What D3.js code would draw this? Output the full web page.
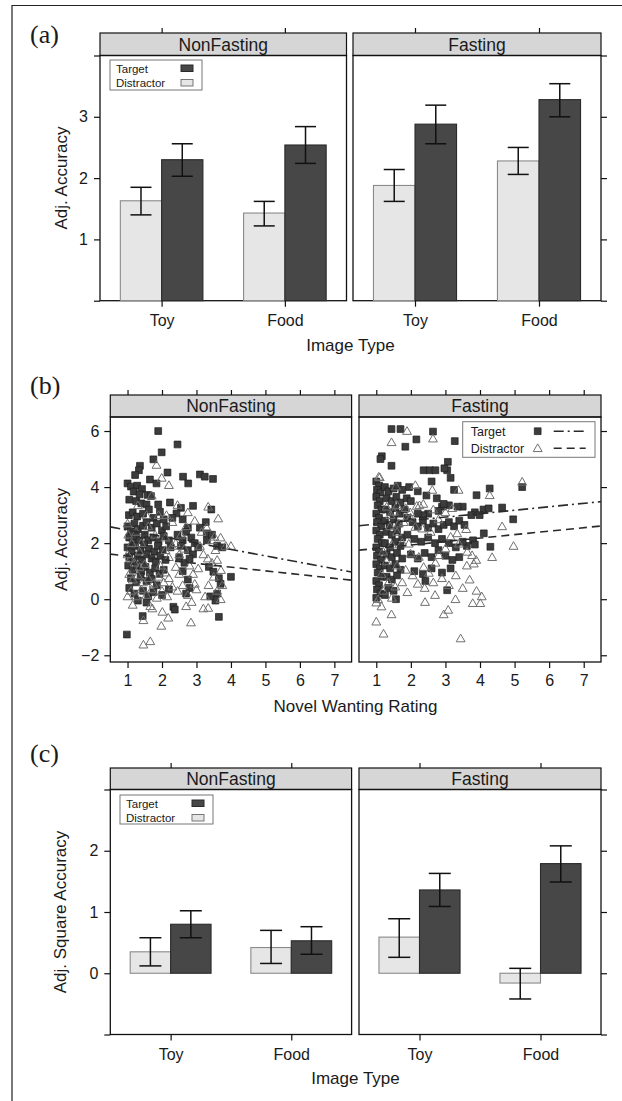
<!DOCTYPE html>
<html><head><meta charset="utf-8">
<script src="https://cdn.jsdelivr.net/npm/d3@7"></script>
<style>
body{margin:0;background:#fff}
svg text{font-family:"Liberation Sans",Arial,Helvetica,sans-serif;fill:#1a1a1a}
</style>
</head><body>
<svg id="chart" width="622" height="1101"></svg>
<script>
// ---------------- DATA ----------------
const groups = ["NonFasting", "Fasting"];
const imageTypes = ["Toy", "Food"];
const seriesNames = ["Target", "Distractor"];

// Panel (a): Adj. Accuracy, per group -> [Toy, Food]
const aTargetMean = [[2.30, 2.54], [2.88, 3.28]];
const aTargetLo   = [[2.03, 2.24], [2.56, 3.00]];
const aTargetHi   = [[2.56, 2.84], [3.19, 3.54]];
const aDistrMean  = [[1.63, 1.43], [1.88, 2.28]];
const aDistrLo    = [[1.40, 1.22], [1.62, 2.06]];
const aDistrHi    = [[1.85, 1.62], [2.14, 2.50]];
const aYTicks = [0, 1, 2, 3, 4];
const aYLabels = [1, 2, 3];

// Panel (c): Adj. Square Accuracy
const cTargetMean = [[0.80, 0.53], [1.36, 1.79]];
const cTargetLo   = [[0.58, 0.31], [1.09, 1.49]];
const cTargetHi   = [[1.02, 0.76], [1.63, 2.08]];
const cDistrMean  = [[0.35, 0.42], [0.59, -0.16]];
const cDistrLo    = [[0.12, 0.16], [0.26, -0.42]];
const cDistrHi    = [[0.58, 0.70], [0.89, 0.08]];
const cYTicks = [-1, 0, 1, 2, 3];
const cYLabels = [0, 1, 2];

// Panel (b): Novel Wanting Rating vs Adj. Accuracy
const bXTicks = [1, 2, 3, 4, 5, 6, 7];
const bYTicks = [-2, 0, 2, 4, 6];
// regression lines [intercept, slope]
const bTargetFit = [[2.695, -0.230], [2.559, 0.123]];
const bDistrFit  = [[1.676, -0.133], [1.689, 0.123]];

const nfTarget = [
[1.89,6.0],[2.45,5.52],[1.99,5.24],[1.75,4.99],[1.36,4.76],[1.33,4.6],[1.22,4.43],[2.16,4.52],[1.65,4.27],[1.84,4.13],[2.61,4.37],[2.76,4.13],[3.10,4.45],[3.24,4.37],[3.48,4.29],
[1.0,4.13],[1.1,4.02],[1.28,4.05],[1.42,3.93],[1.18,3.84],[1.35,3.74],[1.58,3.72],[1.68,3.68],[1.05,3.55],[1.25,3.5],[1.4,3.42],[1.55,3.38],[1.89,3.38],[2.23,3.45],[2.55,3.26],[2.9,3.33],
[1.04,3.0],[1.15,3.1],[1.28,2.95],[1.45,3.05],[1.94,3.12],[2.42,3.06],[3.43,3.2],[3.27,2.75],[2.6,2.85],[2.75,2.55],[3.1,2.55],[3.3,2.35],[1.62,3.2],[1.75,2.9],[2.05,2.85],[2.3,2.9],
[1.0,2.6],[1.1,2.42],[1.2,2.7],[1.3,2.5],[1.45,2.62],[1.55,2.75],[1.7,2.55],[1.85,2.7],[2.0,2.45],[2.12,2.6],
[1.05,2.2],[1.15,2.05],[1.25,2.25],[1.35,2.1],[1.5,2.3],[1.6,2.1],[1.75,2.2],[1.9,2.05],[2.05,2.25],[2.2,2.1],
[1.0,1.85],[1.12,1.7],[1.22,1.9],[1.38,1.75],[1.48,1.95],[1.62,1.8],[1.78,1.7],[1.88,1.9],[2.02,1.75],[2.25,1.85],
[1.05,1.5],[1.18,1.35],[1.3,1.55],[1.42,1.4],[1.55,1.6],[1.7,1.45],[1.82,1.35],[1.95,1.55],[2.1,1.4],
[1.02,1.2],[1.15,1.05],[1.27,1.2],[1.4,1.0],[1.52,1.15],[1.65,0.95],[1.8,1.1],[1.93,0.9],[2.05,1.05],
[1.1,0.75],[1.25,0.6],[1.38,0.8],[1.55,0.65],[1.7,0.72],[1.85,0.5],[1.05,0.4],[1.2,0.2],[1.45,0.3],[1.6,0.1],[1.75,0.25],[2.0,0.15],[2.2,0.35],[1.3,-0.05],[1.55,-0.12],
[2.45,2.3],[2.6,2.1],[2.7,2.4],[2.85,2.2],[2.95,2.0],[2.55,1.9],[2.75,1.75],[2.9,1.6],[3.05,1.85],[3.3,2.1],[3.45,2.3],[3.6,1.9],[3.75,1.85],[2.5,1.5],[2.65,1.3],[2.8,1.45],[2.6,1.0],[2.75,0.7],[2.8,0.4],[2.7,0.2],[3.36,1.15],[3.49,0.98],[3.6,0.2],[3.7,0.55],[3.65,0.75],[3.55,-0.05],[3.4,0.1],[4.0,0.8],
[0.98,-1.26],[1.44,-0.6],[2.33,-0.27],[2.37,-0.37],[3.65,-0.63]
];
const nfDistractor = [
[1.84,4.79],[1.99,4.33],[2.2,4.07],[1.7,3.7],[2.45,3.36],[3.34,3.3],[3.63,2.88],[1.9,3.0],[2.13,3.0],[1.0,2.7],[1.55,3.0],[2.3,2.75],[2.7,2.6],[2.95,2.8],[3.15,2.4],[3.3,2.55],[3.45,2.1],[3.7,2.2],[3.52,2.23],[3.85,1.9],[4.0,1.9],[3.71,1.04],[3.6,1.4],[3.33,1.45],
[1.05,0.9],[1.15,0.7],[1.3,0.85],[1.45,0.6],[1.6,0.75],[1.75,0.55],[1.9,0.8],[2.05,0.6],[2.2,0.75],[1.1,0.3],[1.25,0.1],[1.4,0.35],[1.55,0.15],[1.7,0.35],[1.85,0.05],[2.0,0.3],[2.15,0.1],[2.3,0.45],[1.2,1.3],[1.35,1.15],[1.0,1.6],[1.08,1.45],[1.5,1.25],
[1.66,-0.25],[1.72,-0.33],[2.01,-0.45],[2.18,-0.66],[1.98,-0.95],[2.7,-0.25],[2.86,-0.1],[3.2,-0.33],[2.84,-0.83],[1.66,-1.5],[1.46,-1.62],[1.46,-0.75],[3.7,0.0],[3.34,-0.31],
[2.5,1.6],[2.65,1.8],[2.8,1.2],[2.9,0.9],[3.05,1.1],[3.2,1.6],[3.35,0.5],[3.5,0.8],[3.6,0.3],[2.6,0.5],[2.75,0.15],[3.0,0.35],[3.25,0.1],[2.4,2.0],[2.55,2.3],[2.3,1.9],[2.2,1.5],[2.1,2.2],[1.4,2.0],[1.25,2.4],[1.6,2.6],[1.8,2.3],[2.4,1.15],[2.5,0.9],[3.1,1.9],[3.45,1.3],[3.55,1.75],[3.75,0.5],[1.02,2.3],[1.12,2.0],[1.35,1.7],[1.95,1.2],[2.1,0.95],[1.0,0.1],[1.15,-0.2],[2.45,0.3],[2.95,0.55],[1.3,3.35],[2.75,3.1],[2.1,1.75]
];
const fTarget = [
[1.44,6.07],[1.70,6.07],[2.64,5.98],[2.16,5.7],[1.84,5.44],[3.27,5.64],[1.16,5.1],[1.12,5.0],[1.44,4.76],[2.37,4.6],[2.55,4.6],[2.71,4.6],[3.07,4.9],[3.05,4.6],[3.15,4.33],[2.97,4.67],[5.22,4.0],[4.28,3.95],[3.9,3.71],[4.64,3.27],[4.96,2.85],[4.3,1.87],[4.11,2.35],[3.8,2.1],[3.85,1.95],[3.62,1.9],[4.1,3.2],[3.85,3.1],[3.75,3.0],[3.5,3.3],[3.35,3.3],[3.1,3.35],[2.9,3.3],[2.95,3.4],[2.8,3.15],[2.5,3.05],[2.35,3.0],[2.2,3.05],[2.42,0.65],[3.05,0.32],[1.57,0.0],[4.25,3.24],[3.99,3.0],
[1.0,4.2],[1.08,4.05],[1.02,3.9],[1.12,3.8],[1.0,3.65],[1.1,3.5],[1.04,3.35],[1.15,3.2],[1.0,3.05],[1.08,2.9],[1.02,2.75],[1.14,2.6],[1.0,2.45],[1.1,2.3],[1.04,2.15],[1.16,2.0],[1.0,1.85],[1.08,1.7],[1.02,1.55],[1.14,1.4],[1.0,1.25],[1.1,1.1],[1.04,0.95],[1.16,0.8],[1.0,0.65],[1.08,0.5],[1.02,0.35],[1.12,0.2],[1.0,0.05],
[1.25,4.0],[1.35,3.85],[1.5,3.95],[1.62,4.05],[1.75,3.9],[1.3,3.6],[1.45,3.5],[1.58,3.65],[1.7,3.45],[1.88,3.6],[2.0,3.5],[1.25,3.2],[1.4,3.1],[1.55,3.25],[1.68,3.05],[1.82,3.2],[1.25,2.8],[1.38,2.65],[1.5,2.85],[1.65,2.7],[1.3,2.4],[1.45,2.3],[1.6,2.45],[1.75,2.2],[1.25,2.0],[1.4,1.85],[1.55,2.05],[1.7,1.9],[1.3,1.6],[1.45,1.5],[1.6,1.65],[1.75,1.45],[1.25,1.2],[1.4,1.1],[1.55,1.25],[1.7,1.05],[1.3,0.8],[1.45,0.7],[1.6,0.85],[1.35,0.4],[1.5,0.3],[1.25,0.15],
[1.9,2.9],[2.05,2.75],[2.2,2.6],[2.35,2.8],[2.5,2.55],[2.65,2.7],[2.8,2.5],[2.95,2.65],[3.1,2.75],[3.25,2.6],[3.4,2.8],[3.55,2.65],[1.9,2.3],[2.1,2.15],[2.3,2.05],[2.5,2.2],[2.7,2.0],[2.9,2.15],[3.1,2.0],[3.3,1.85],[3.5,2.05],[2.0,1.6],[2.2,1.45],[2.4,1.65],[2.6,1.5],[2.8,1.75],[3.0,1.55],[3.2,1.4],[2.1,1.0],[2.35,0.9],[2.6,1.1],[2.9,0.95],[3.15,1.1],[3.4,1.5],[2.75,3.6],[2.45,3.7],[2.2,3.85],[1.95,4.0],[3.25,3.9],[2.6,4.2]
];
const fDistractor = [
[1.89,6.0],[2.64,5.73],[1.44,5.6],[3.67,5.68],[1.1,4.35],[5.22,4.19],[4.28,3.71],[3.38,3.9],[4.64,2.6],[4.97,1.9],[4.35,1.5],[3.89,1.4],[3.62,1.2],
[1.51,3.12],[1.99,2.91],[2.13,2.58],[2.33,2.52],[2.57,2.4],[1.94,1.98],[1.75,2.02],[1.99,1.63],[2.23,1.51],[2.37,1.15],[2.52,0.94],[2.71,1.3],[2.81,1.57],[3.0,1.81],[3.15,2.23],[3.34,2.35],[3.39,1.98],[3.63,1.69],[3.77,1.57],[3.82,1.27],
[1.3,3.3],[1.6,3.35],[1.85,3.25],[2.25,3.35],[2.65,3.2],[3.0,3.1],[3.2,3.25],[1.4,2.6],[1.65,2.7],[2.8,2.85],[3.6,2.5],[1.2,1.7],[1.45,1.95],[1.3,1.35],[1.6,1.2],[1.85,1.05],[2.05,0.85],[2.2,0.55],[2.4,0.4],[2.65,0.6],[2.9,0.75],[3.1,0.5],[3.3,0.85],[3.5,0.4],[3.7,0.7],[1.15,0.9],[1.35,0.6],[1.55,0.45],[1.75,0.6],[1.9,0.25],[1.2,0.3],[1.05,0.0],[1.45,0.05],
[1.0,-0.12],[1.15,-0.26],[1.44,-0.54],[1.0,-0.8],[1.21,-1.23],[2.41,-0.1],[2.95,-0.54],[3.08,-0.38],[3.29,0.0],[3.79,-0.14],[4.01,-0.14],[3.44,-1.4],[2.7,0.15],[3.9,0.3],[4.05,0.1],
[1.07,4.37],[1.57,4.02],[2.13,4.07],[2.62,3.9],[1.41,3.0],[1.98,3.1],[2.17,3.33],[2.36,3.4],[1.6,2.4],[1.8,2.75]
];
const bScatter = [[nfTarget, nfDistractor], [fTarget, fDistractor]];

// ---------------- DRAWING ----------------
const svg = d3.select("#chart");
const TARGET_FILL = "#474747", DISTR_FILL = "#e6e6e6";
const FS_TICK = 16, FS_TITLE = 17, FS_STRIP = 17.5;

// outer frame (left/top edges visible)
svg.append("path").attr("d", "M12,1101V5.5H622").attr("fill", "none").attr("stroke", "#222").attr("stroke-width", 1.2);

function styleAxis(g, fs) {
  g.select(".domain").remove();
  g.selectAll(".tick line").attr("stroke", "#111").attr("stroke-width", 1.2);
  g.selectAll(".tick text").attr("font-size", fs).attr("fill", "#1a1a1a");
}

function drawFrame(cfg) {
  cfg.panels.forEach((p, i) => {
    const [x0, x1] = p;
    svg.append("rect").attr("x", x0).attr("y", cfg.stripTop).attr("width", x1 - x0)
      .attr("height", cfg.plotTop - cfg.stripTop).attr("fill", "#d6d6d6").attr("stroke", "#111").attr("stroke-width", 1.2);
    svg.append("text").attr("x", (x0 + x1) / 2).attr("y", cfg.plotTop - 5).attr("text-anchor", "middle")
      .attr("font-size", FS_STRIP).text(groups[i]);
    svg.append("rect").attr("x", x0).attr("y", cfg.plotTop).attr("width", x1 - x0)
      .attr("height", cfg.plotBottom - cfg.plotTop).attr("fill", "none").attr("stroke", "#111").attr("stroke-width", 1.3);
  });
}

function panelLetter(txt, y) {
  svg.append("text").attr("x", 30).attr("y", y).attr("font-size", 26)
    .style("font-family", '"Liberation Serif","Times New Roman",serif').text(txt);
}

function yTitle(txt, x, y) {
  svg.append("text").attr("transform", `translate(${x},${y}) rotate(-90)`).attr("text-anchor", "middle")
    .attr("font-size", FS_TITLE).text(txt);
}
function xTitle(txt, x, y) {
  svg.append("text").attr("x", x).attr("y", y).attr("text-anchor", "middle").attr("font-size", FS_TITLE).text(txt);
}

function barPanel(opt) {
  const { panels, stripTop, plotTop, plotBottom, yDomain, yTicks, yLabels, tMean, tLo, tHi, dMean, dLo, dHi, capW, legend } = opt;
  const y = d3.scaleLinear().domain(yDomain).range([plotBottom, plotTop]);
  drawFrame({ panels, stripTop, plotTop, plotBottom });
  panels.forEach((p, gi) => {
    const x = d3.scaleLinear().domain([0.5, 2.5]).range(p);
    const half = 0.335;
    const g = svg.append("g");
    imageTypes.forEach((cat, ci) => {
      const c = ci + 1;
      const bars = [
        { x0: c - half, x1: c, v: dMean[gi][ci], lo: dLo[gi][ci], hi: dHi[gi][ci], fill: DISTR_FILL, stroke: "#8a8a8a" },
        { x0: c, x1: c + half, v: tMean[gi][ci], lo: tLo[gi][ci], hi: tHi[gi][ci], fill: TARGET_FILL, stroke: "#2a2a2a" }
      ];
      bars.forEach(b => {
        g.append("rect").attr("x", x(b.x0)).attr("width", x(b.x1) - x(b.x0))
          .attr("y", Math.min(y(b.v), y(0))).attr("height", Math.abs(y(b.v) - y(0)))
          .attr("fill", b.fill).attr("stroke", b.stroke).attr("stroke-width", 1.1);
      });
      bars.forEach(b => {
        const cx = x((b.x0 + b.x1) / 2);
        g.append("line").attr("x1", cx).attr("x2", cx).attr("y1", y(b.lo)).attr("y2", y(b.hi)).attr("stroke", "#111").attr("stroke-width", 1.5);
        [b.lo, b.hi].forEach(v => g.append("line").attr("x1", cx - capW / 2).attr("x2", cx + capW / 2)
          .attr("y1", y(v)).attr("y2", y(v)).attr("stroke", "#111").attr("stroke-width", 1.5));
      });
    });
    const top = svg.append("g").attr("transform", `translate(0,${stripTop})`)
      .call(d3.axisTop(x).tickValues([1, 2]).tickSize(5).tickFormat(""));
    styleAxis(top, FS_TICK);
    const bot = svg.append("g").attr("transform", `translate(0,${plotBottom})`)
      .call(d3.axisBottom(x).tickValues([1, 2]).tickSize(6).tickPadding(8).tickFormat(d => imageTypes[d - 1]));
    styleAxis(bot, FS_TICK);
    if (gi === 0) {
      const la = svg.append("g").attr("transform", `translate(${p[0]},0)`)
        .call(d3.axisLeft(y).tickValues(yTicks).tickSize(6).tickPadding(6).tickFormat(d => yLabels.includes(d) ? d : ""));
      styleAxis(la, FS_TICK);
    } else {
      const ra = svg.append("g").attr("transform", `translate(${p[1]},0)`)
        .call(d3.axisRight(y).tickValues(yTicks).tickSize(6).tickFormat(""));
      styleAxis(ra, FS_TICK);
    }
  });
  const L = legend;
  svg.append("rect").attr("x", L.x).attr("y", L.y).attr("width", L.w).attr("height", L.h)
    .attr("fill", "#fff").attr("stroke", "#777").attr("stroke-width", 1);
  const items = [{ n: seriesNames[0], f: TARGET_FILL, s: "#2a2a2a" }, { n: seriesNames[1], f: DISTR_FILL, s: "#777" }];
  items.forEach((it, i) => {
    svg.append("text").attr("x", L.x + 6).attr("y", L.y + 12.5 + i * 14.5).attr("font-size", 11.5).text(it.n);
    svg.append("rect").attr("x", L.x + L.w - 21).attr("y", L.y + 5 + i * 14.5).attr("width", 12).attr("height", 6.5)
      .attr("fill", it.f).attr("stroke", it.s).attr("stroke-width", 1);
  });
}

// ---------- Panel (a) ----------
panelLetter("(a)", 43);
barPanel({
  panels: [[100, 346.5], [353, 601]], stripTop: 33, plotTop: 55.5, plotBottom: 300.7,
  yDomain: [0, 4], yTicks: aYTicks, yLabels: aYLabels,
  tMean: aTargetMean, tLo: aTargetLo, tHi: aTargetHi, dMean: aDistrMean, dLo: aDistrLo, dHi: aDistrHi,
  capW: 21, legend: { x: 110, y: 60, w: 92, h: 30 }
});
yTitle("Adj. Accuracy", 67, 178);
xTitle("Image Type", 350.5, 351);

// ---------- Panel (b) ----------
panelLetter("(b)", 394);
(function () {
  const panels = [[110.3, 351.6], [359, 601]];
  const stripTop = 395, plotTop = 417, plotBottom = 662;
  const y = d3.scaleLinear().domain([-2.24, 6.5]).range([plotBottom, plotTop]);
  drawFrame({ panels, stripTop, plotTop, plotBottom });
  const sqr = d3.symbol().type(d3.symbolSquare).size(46)();
  const tri = d3.symbol().type(d3.symbolTriangle).size(34)();
  panels.forEach((p, gi) => {
    const x = d3.scaleLinear().domain([0.5, 7.5]).range(p);
    const clipId = "clipb" + gi;
    svg.append("clipPath").attr("id", clipId).append("rect").attr("x", p[0]).attr("y", plotTop)
      .attr("width", p[1] - p[0]).attr("height", plotBottom - plotTop);
    const g = svg.append("g").attr("clip-path", `url(#${clipId})`);
    g.selectAll(".sq").data(bScatter[gi][0]).join("path").attr("d", sqr)
      .attr("transform", d => `translate(${x(d[0])},${y(d[1])})`)
      .attr("fill", "#3c3c3c").attr("stroke", "#1e1e1e").attr("stroke-width", 0.7);
    g.selectAll(".tr").data(bScatter[gi][1]).join("path").attr("d", tri)
      .attr("transform", d => `translate(${x(d[0])},${y(d[1]) + 0.8})`)
      .attr("fill", "none").attr("stroke", "#707070").attr("stroke-width", 1);
    const fits = [[bTargetFit[gi], "10,4,2,4"], [bDistrFit[gi], "8,5"]];
    fits.forEach(([f, dash]) => {
      g.append("line").attr("x1", x(0.5)).attr("x2", x(7.5))
        .attr("y1", y(f[0] + f[1] * 0.5)).attr("y2", y(f[0] + f[1] * 7.5))
        .attr("stroke", "#2a2a2a").attr("stroke-width", 1.6).attr("stroke-dasharray", dash);
    });
    const top = svg.append("g").attr("transform", `translate(0,${stripTop})`)
      .call(d3.axisTop(x).tickValues(bXTicks).tickSize(5).tickFormat(""));
    styleAxis(top, FS_TICK);
    const bot = svg.append("g").attr("transform", `translate(0,${plotBottom})`)
      .call(d3.axisBottom(x).tickValues(bXTicks).tickSize(6).tickPadding(7).tickFormat(d3.format("d")));
    styleAxis(bot, FS_TICK);
    if (gi === 0) {
      const la = svg.append("g").attr("transform", `translate(${p[0]},0)`)
        .call(d3.axisLeft(y).tickValues(bYTicks).tickSize(6).tickPadding(5).tickFormat(d => d < 0 ? "\u2212" + Math.abs(d) : d));
      styleAxis(la, FS_TICK);
    } else {
      const ra = svg.append("g").attr("transform", `translate(${p[1]},0)`)
        .call(d3.axisRight(y).tickValues(bYTicks).tickSize(6).tickFormat(""));
      styleAxis(ra, FS_TICK);
      const Lx = 462.7, Ly = 421.7, Lw = 132.3, Lh = 35.6;
      svg.append("rect").attr("x", Lx).attr("y", Ly).attr("width", Lw).attr("height", Lh)
        .attr("fill", "#fff").attr("stroke", "#777").attr("stroke-width", 1);
      const rows = [[seriesNames[0], sqr, "#3c3c3c", "#1e1e1e", "10,4,2,4"], [seriesNames[1], tri, "none", "#707070", "8,5"]];
      rows.forEach((r, i) => {
        const ry = Ly + 9.5 + i * 17;
        svg.append("text").attr("x", Lx + 8).attr("y", ry + 4.5).attr("font-size", 12.5).text(r[0]);
        svg.append("path").attr("d", r[1]).attr("transform", `translate(${Lx + 75},${ry + (i ? 0.8 : 0)})`)
          .attr("fill", r[2]).attr("stroke", r[3]).attr("stroke-width", i ? 1 : 0.7);
        svg.append("line").attr("x1", Lx + 91).attr("x2", Lx + 123).attr("y1", ry).attr("y2", ry)
          .attr("stroke", "#2a2a2a").attr("stroke-width", 1.6).attr("stroke-dasharray", r[4]);
      });
    }
  });
})();
yTitle("Adj. Accuracy", 67, 539.5);
xTitle("Novel Wanting Rating", 355.5, 712);

// ---------- Panel (c) ----------
panelLetter("(c)", 762);
barPanel({
  panels: [[110.3, 351.6], [359, 601]], stripTop: 768, plotTop: 789.5, plotBottom: 1034.5,
  yDomain: [-1, 3], yTicks: cYTicks, yLabels: cYLabels,
  tMean: cTargetMean, tLo: cTargetLo, tHi: cTargetHi, dMean: cDistrMean, dLo: cDistrLo, dHi: cDistrHi,
  capW: 22, legend: { x: 120, y: 795, w: 93, h: 29 }
});
yTitle("Adj. Square Accuracy", 66, 912);
xTitle("Image Type", 355.5, 1084);
</script>
</body></html>
